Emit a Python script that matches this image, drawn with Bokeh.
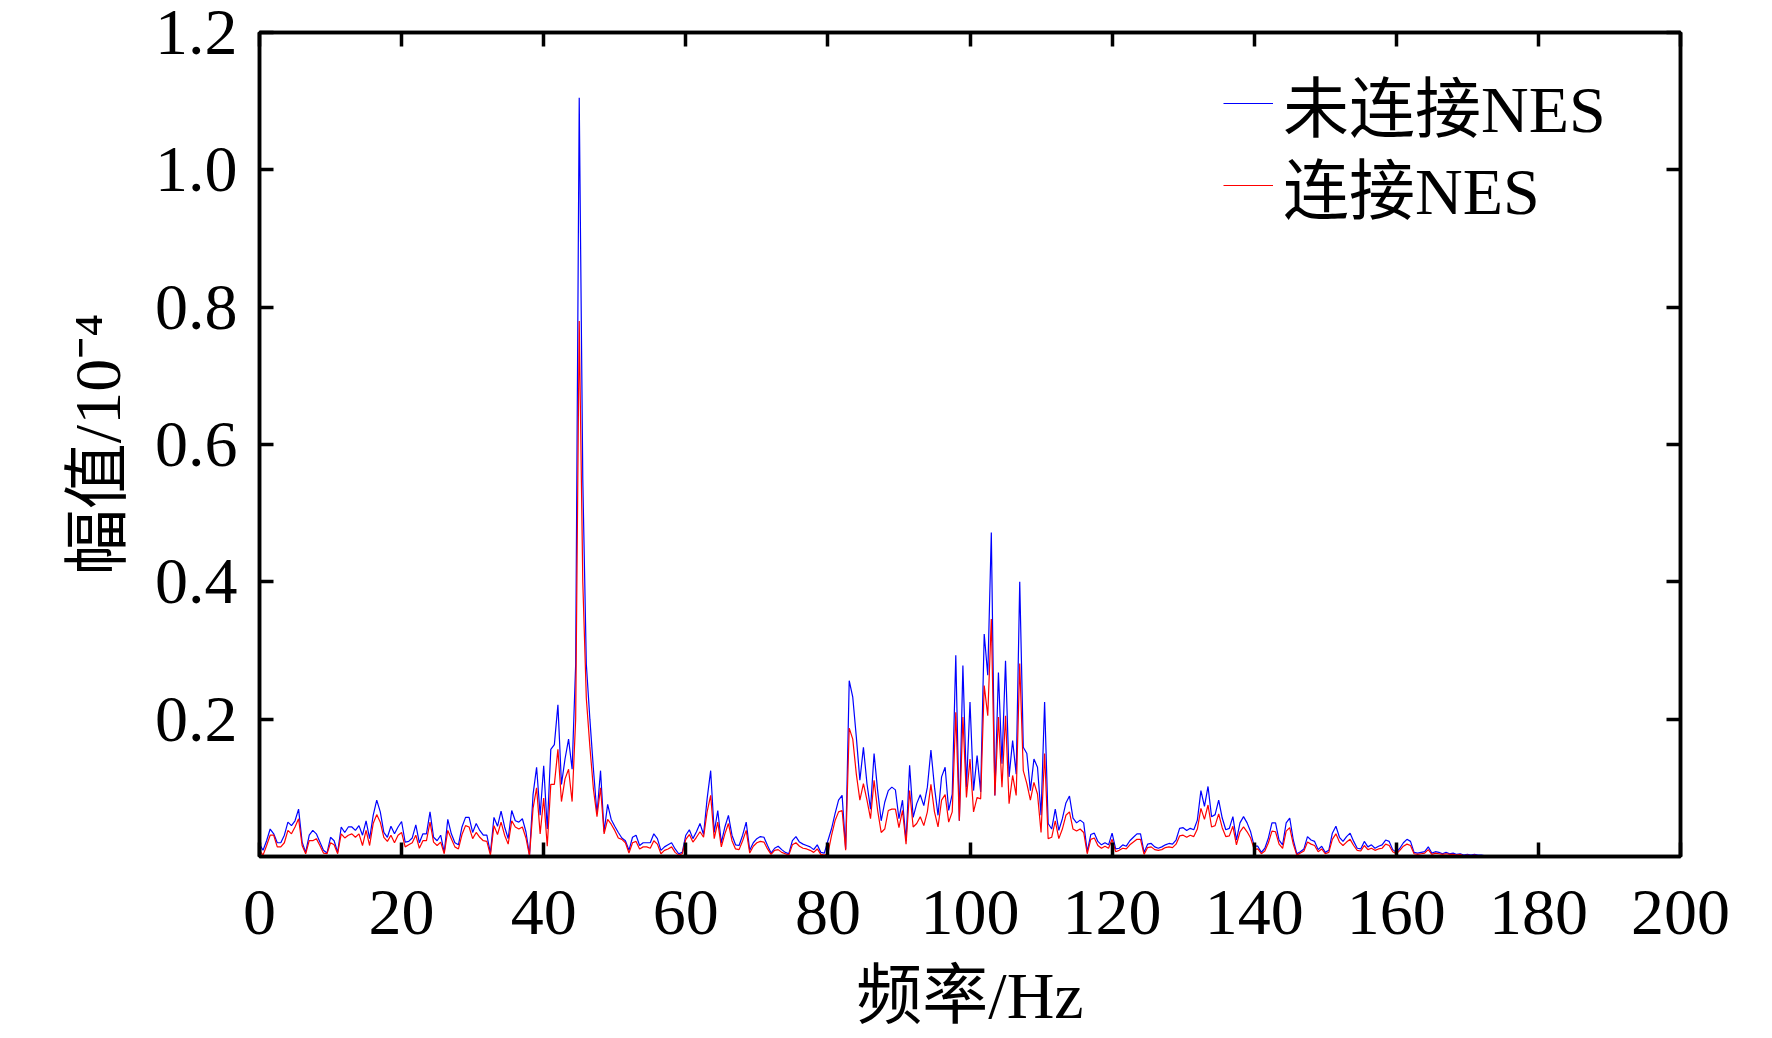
from bokeh.plotting import figure
from bokeh.models import Range1d, LinearAxis, FixedTicker, Legend, LegendItem, NumeralTickFormatter
from bokeh.embed import file_html
from bokeh.resources import INLINE

# ---------------- data ----------------
STEP = 0.5  # Hz, spectral resolution
x_ticks = [0, 20, 40, 60, 80, 100, 120, 140, 160, 180, 200]
y_ticks = [0.2, 0.4, 0.6, 0.8, 1.0, 1.2]
x_label = "频率/Hz"
y_label = "幅值/10⁻⁴"
name_blue = "未连接NES"
name_red = "连接NES"

# segments: start frequency -> values (one value per 0.5 Hz)
blue_0 = [0.018, 0.009, 0.023, 0.040, 0.033, 0.020, 0.020, 0.031, 0.050, 0.045,
          0.052, 0.069, 0.021, 0.006, 0.031, 0.038, 0.033, 0.021, 0.009, 0.005,
          0.028, 0.023, 0.006, 0.043, 0.035, 0.043, 0.043, 0.038, 0.045, 0.031,
          0.052, 0.026, 0.060, 0.082, 0.065, 0.035, 0.028, 0.044, 0.033, 0.043,
          0.051, 0.021, 0.022, 0.027, 0.046, 0.020, 0.033, 0.033, 0.065, 0.028,
          0.023, 0.031, 0.006, 0.054, 0.033, 0.020, 0.017, 0.043, 0.057, 0.057,
          0.035, 0.048, 0.038, 0.031, 0.031, 0.005, 0.057, 0.044, 0.066, 0.043,
          0.026, 0.067, 0.052, 0.050, 0.055, 0.036]
red_0 = [0.009, 0.002, 0.016, 0.031, 0.031, 0.014, 0.014, 0.020, 0.038, 0.033,
         0.043, 0.055, 0.016, 0.004, 0.023, 0.023, 0.026, 0.016, 0.005, 0.004,
         0.020, 0.017, 0.004, 0.033, 0.027, 0.031, 0.033, 0.028, 0.033, 0.016,
         0.038, 0.016, 0.048, 0.061, 0.050, 0.028, 0.022, 0.031, 0.020, 0.031,
         0.035, 0.014, 0.017, 0.020, 0.031, 0.012, 0.023, 0.023, 0.050, 0.021,
         0.016, 0.021, 0.004, 0.038, 0.026, 0.014, 0.011, 0.032, 0.045, 0.043,
         0.026, 0.035, 0.028, 0.023, 0.022, 0.002, 0.045, 0.032, 0.050, 0.031,
         0.018, 0.052, 0.043, 0.040, 0.043, 0.027]

blue_38 = [0.002, 0.090, 0.130, 0.060, 0.132, 0.040, 0.156, 0.163, 0.221, 0.105,
           0.142, 0.171, 0.127, 0.280, 1.105, 0.550, 0.280, 0.200, 0.127, 0.062,
           0.125, 0.036, 0.076, 0.054]
red_38 = [0.001, 0.070, 0.100, 0.033, 0.085, 0.015, 0.105, 0.105, 0.156, 0.080,
          0.113, 0.127, 0.080, 0.200, 0.780, 0.400, 0.230, 0.160, 0.098, 0.058,
          0.100, 0.033, 0.054, 0.047]

blue_50 = [0.044, 0.035, 0.027, 0.023, 0.009, 0.028, 0.031, 0.016, 0.020, 0.020,
           0.020, 0.033, 0.026, 0.009, 0.014, 0.017, 0.020, 0.011, 0.004, 0.006,
           0.031, 0.039, 0.026, 0.036, 0.048, 0.032, 0.084, 0.125, 0.035, 0.067,
           0.020, 0.043, 0.060, 0.031, 0.017, 0.016, 0.031, 0.050, 0.009, 0.020,
           0.026, 0.029, 0.028, 0.016, 0.005, 0.012, 0.015, 0.010, 0.006, 0.004,
           0.023, 0.029, 0.021, 0.018, 0.016, 0.014, 0.010, 0.017, 0.006, 0.005]
red_50 = [0.038, 0.027, 0.025, 0.020, 0.005, 0.020, 0.022, 0.011, 0.014, 0.014,
          0.012, 0.023, 0.018, 0.004, 0.009, 0.011, 0.014, 0.006, 0.002, 0.004,
          0.025, 0.032, 0.021, 0.028, 0.036, 0.028, 0.065, 0.089, 0.026, 0.050,
          0.014, 0.033, 0.048, 0.023, 0.011, 0.010, 0.023, 0.038, 0.005, 0.015,
          0.020, 0.022, 0.021, 0.011, 0.003, 0.009, 0.010, 0.006, 0.004, 0.002,
          0.017, 0.020, 0.015, 0.012, 0.011, 0.009, 0.006, 0.011, 0.003, 0.002]

blue_80 = [0.023, 0.040, 0.062, 0.082, 0.089, 0.011, 0.256, 0.232, 0.174, 0.111,
           0.159, 0.106, 0.069, 0.150, 0.096, 0.052, 0.079, 0.096, 0.101, 0.097,
           0.055, 0.082, 0.023, 0.133, 0.057, 0.077, 0.090, 0.074, 0.101, 0.155,
           0.101, 0.060, 0.116, 0.130, 0.067, 0.091, 0.293, 0.052, 0.278, 0.101,
           0.225, 0.096, 0.147, 0.094, 0.324, 0.264, 0.472, 0.089, 0.268, 0.135,
           0.285, 0.116, 0.169, 0.120, 0.400, 0.159, 0.150, 0.096, 0.142, 0.130,
           0.060, 0.225, 0.048, 0.040, 0.069, 0.038]
red_80 = [0.004, 0.030, 0.052, 0.065, 0.067, 0.009, 0.187, 0.171, 0.120, 0.082,
          0.106, 0.082, 0.055, 0.111, 0.067, 0.035, 0.040, 0.067, 0.069, 0.069,
          0.042, 0.067, 0.018, 0.096, 0.043, 0.048, 0.058, 0.045, 0.065, 0.105,
          0.065, 0.043, 0.082, 0.090, 0.050, 0.065, 0.210, 0.052, 0.203, 0.086,
          0.142, 0.065, 0.086, 0.084, 0.249, 0.205, 0.346, 0.089, 0.203, 0.101,
          0.205, 0.077, 0.118, 0.089, 0.281, 0.125, 0.106, 0.082, 0.108, 0.091,
          0.035, 0.150, 0.026, 0.028, 0.052, 0.026]

blue_113 = [0.055, 0.078, 0.088, 0.056, 0.049, 0.053, 0.049, 0.007, 0.032, 0.034,
            0.022, 0.017, 0.020, 0.017, 0.034, 0.011, 0.012, 0.017, 0.015, 0.023,
            0.028, 0.033, 0.033, 0.006, 0.018, 0.019, 0.014, 0.012, 0.014, 0.017,
            0.019, 0.018, 0.024, 0.041, 0.042, 0.038, 0.041, 0.039, 0.053, 0.096,
            0.073, 0.102, 0.058, 0.061, 0.082, 0.056, 0.039, 0.041, 0.058, 0.024,
            0.049, 0.058, 0.049, 0.036, 0.015, 0.015, 0.006, 0.012, 0.027, 0.049,
            0.049, 0.024, 0.017, 0.049, 0.056, 0.024, 0.004, 0.007, 0.011, 0.029,
            0.024, 0.022, 0.010, 0.015, 0.006, 0.009, 0.034, 0.044, 0.028, 0.022,
            0.029, 0.034, 0.022, 0.012, 0.011, 0.022, 0.014, 0.017, 0.012, 0.015,
            0.017, 0.024, 0.022, 0.010, 0.006, 0.012, 0.020, 0.025, 0.022, 0.006,
            0.005, 0.006, 0.007, 0.014, 0.005, 0.007, 0.006, 0.004, 0.006, 0.004,
            0.005, 0.003, 0.004, 0.002, 0.003, 0.002, 0.003, 0.002, 0.002, 0.001]
red_113 = [0.040, 0.060, 0.065, 0.040, 0.037, 0.040, 0.035, 0.004, 0.025, 0.027,
           0.016, 0.012, 0.015, 0.012, 0.025, 0.007, 0.009, 0.012, 0.011, 0.017,
           0.021, 0.025, 0.025, 0.003, 0.013, 0.014, 0.010, 0.009, 0.010, 0.013,
           0.014, 0.013, 0.018, 0.030, 0.031, 0.028, 0.031, 0.029, 0.040, 0.070,
           0.054, 0.075, 0.043, 0.045, 0.062, 0.042, 0.029, 0.030, 0.044, 0.017,
           0.036, 0.043, 0.036, 0.027, 0.010, 0.011, 0.004, 0.008, 0.020, 0.037,
           0.036, 0.018, 0.012, 0.037, 0.042, 0.018, 0.002, 0.005, 0.008, 0.021,
           0.018, 0.016, 0.007, 0.011, 0.004, 0.006, 0.025, 0.033, 0.021, 0.016,
           0.021, 0.025, 0.016, 0.009, 0.008, 0.016, 0.010, 0.012, 0.009, 0.011,
           0.012, 0.018, 0.016, 0.007, 0.004, 0.009, 0.015, 0.018, 0.016, 0.004,
           0.003, 0.004, 0.005, 0.010, 0.003, 0.005, 0.004, 0.003, 0.004, 0.003,
           0.003, 0.002, 0.003, 0.001, 0.002, 0.001, 0.002, 0.001, 0.001, 0.001]

blue_segments = [(0.0, blue_0), (38.0, blue_38), (50.0, blue_50), (80.0, blue_80), (113.0, blue_113)]
red_segments = [(0.0, red_0), (38.0, red_38), (50.0, red_50), (80.0, red_80), (113.0, red_113)]


def assemble(segments):
    fx, fy = [], []
    for start, vals in segments:
        for i, v in enumerate(vals):
            fx.append(start + STEP * i)
            fy.append(v)
    return fx, fy


freq_blue, amp_blue = assemble(blue_segments)
freq_red, amp_red = assemble(red_segments)

# ---------------- style ----------------
FONT = "Liberation Serif, Noto Sans CJK SC"
FS = "66px"
LW = 3.5
TICK = 14

p = figure(width=1768, height=1038,
           x_range=Range1d(0, 200), y_range=Range1d(0, 1.2),
           output_backend="svg", toolbar_location=None,
           min_border_left=259, min_border_right=88,
           min_border_top=32, min_border_bottom=182,
           background_fill_color="white", border_fill_color="white")
p.outline_line_color = "black"
p.outline_line_width = LW
p.grid.visible = False

r_blue = p.line(freq_blue, amp_blue, line_color="#0000ff", line_width=1.2)
r_red = p.line(freq_red, amp_red, line_color="#ff0000", line_width=1.2)


def style_axis(ax, ticks, show_labels):
    ax.ticker = FixedTicker(ticks=ticks)
    ax.axis_line_width = LW
    ax.axis_line_color = "black"
    ax.major_tick_line_width = LW
    ax.major_tick_line_color = "black"
    ax.major_tick_in = TICK
    ax.major_tick_out = 0
    ax.minor_tick_in = 0
    ax.minor_tick_out = 0
    ax.minor_tick_line_color = None
    ax.major_label_text_font = FONT
    ax.axis_label_text_font = FONT
    ax.axis_label_text_font_style = "normal"
    ax.axis_label_text_font_size = FS
    ax.axis_label_text_color = "black"
    if show_labels:
        ax.major_label_text_font_size = FS
        ax.major_label_text_color = "black"
    else:
        ax.major_label_text_font_size = "1px"
        ax.major_label_text_color = None
        ax.major_label_standoff = 0


xa = p.xaxis[0]
style_axis(xa, x_ticks, True)
xa.axis_label = x_label
xa.major_label_standoff = 34
xa.axis_label_standoff = 22

ya = p.yaxis[0]
style_axis(ya, y_ticks, True)
ya.formatter = NumeralTickFormatter(format="0.0")
ya.axis_label = y_label
ya.major_label_standoff = 22
ya.axis_label_standoff = 18

top_ax = LinearAxis()
style_axis(top_ax, x_ticks, False)
p.add_layout(top_ax, "above")

right_ax = LinearAxis()
style_axis(right_ax, y_ticks, False)
p.add_layout(right_ax, "right")


def make_legend(label, renderer, loc):
    return Legend(items=[LegendItem(label=label, renderers=[renderer])],
                  location=loc,
                  label_text_font=FONT, label_text_font_size=FS, label_text_color="black",
                  glyph_width=50, glyph_height=82, label_height=82, label_standoff=10,
                  spacing=0, padding=0, margin=0,
                  border_line_color=None, background_fill_alpha=0)


p.add_layout(make_legend(name_blue, r_blue, (964, 705)))
p.add_layout(make_legend(name_red, r_red, (964, 623)))

open("out.html", "w").write(file_html(p, INLINE))
